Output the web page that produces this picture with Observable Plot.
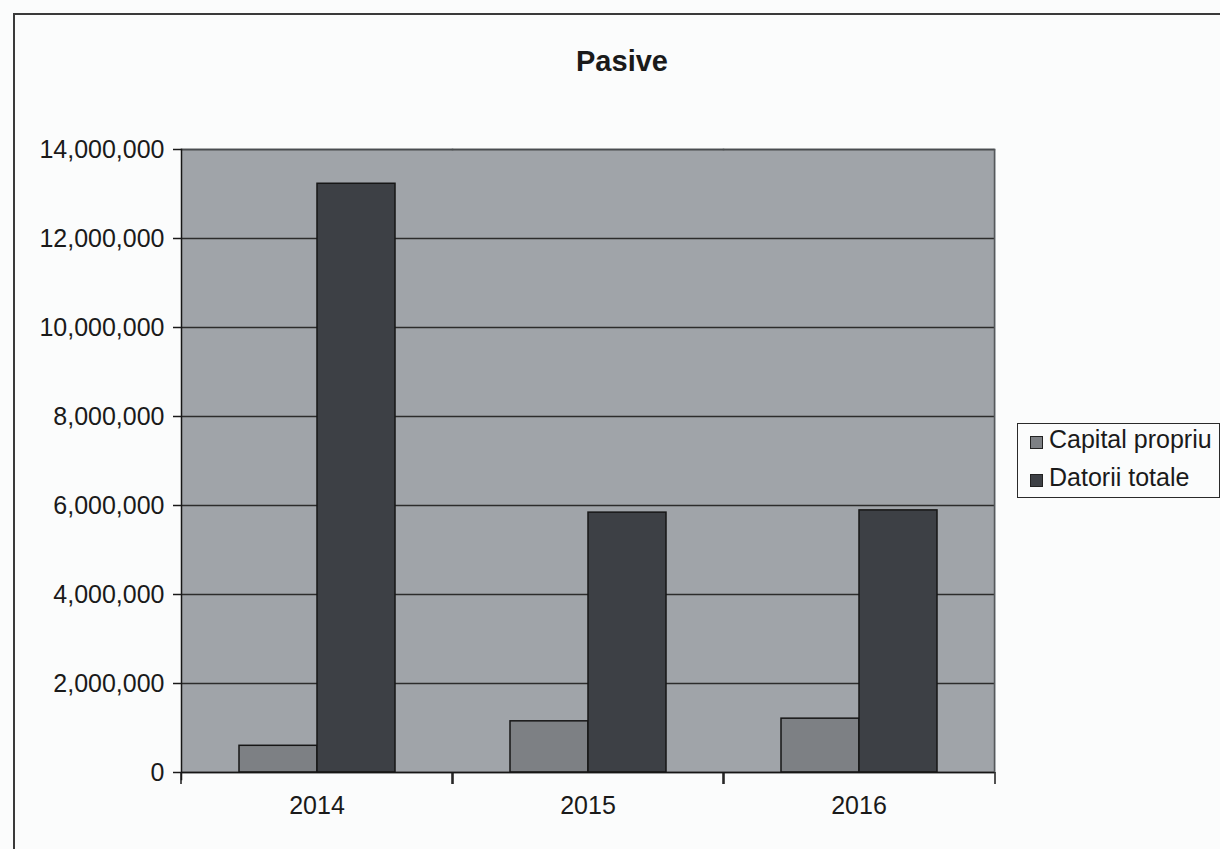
<!DOCTYPE html>
<html>
<head>
<meta charset="utf-8">
<title>Pasive</title>
<script src="https://cdn.jsdelivr.net/npm/d3@7"></script>
<script src="https://cdn.jsdelivr.net/npm/@observablehq/plot@0.6"></script>
<style>
  html, body { margin: 0; padding: 0; background: #fbfcfc; }
  #chart {
    position: relative; width: 1220px; height: 849px; overflow: hidden;
    background: #fbfcfc; color: #1a1a1a;
    font-family: "Liberation Sans", Arial, sans-serif;
  }
  #chart-border {
    position: absolute; left: 13px; top: 13px; width: 1300px; height: 900px;
    border-left: 2px solid #3a3a3a; border-top: 2px solid #3a3a3a;
  }
  #plot { position: absolute; left: 0; top: 0; }
  #title {
    position: absolute; left: 0; top: 47px; width: 1244px;
    text-align: center; font-size: 29px; line-height: 29px; font-weight: bold;
  }
  #legend {
    position: absolute; left: 1017px; top: 423px; width: 203px; height: 75px;
    border: 1.5px solid #2a2a2a; box-sizing: border-box; background: #fbfcfc;
  }
  .item { position: absolute; left: 12px; font-size: 25px; line-height: 25px; white-space: nowrap; }
  .swatch {
    display: inline-block; width: 11px; height: 11px; border: 1px solid #222;
    margin-right: 6px; vertical-align: -1px;
  }
</style>
</head>
<body>
<div id="chart">
  <div id="chart-border"></div>
  <div id="plot"></div>
  <div id="title">Pasive</div>
  <div id="legend"></div>
</div>
<script>
// Balance-sheet liabilities by year (lei)
const years = ["2014", "2015", "2016"];
const seriesNames = ["Capital propriu", "Datorii totale"];
const capitalPropriu = [600000, 1150000, 1210000];
const datoriiTotale = [13230000, 5840000, 5890000];
const yTicks = [0, 2000000, 4000000, 6000000, 8000000, 10000000, 12000000, 14000000];
const seriesColors = ["#7d8084", "#3d4045"];

const rows = years.flatMap((year, i) => [
  {year, series: seriesNames[0], value: capitalPropriu[i]},
  {year, series: seriesNames[1], value: datoriiTotale[i]}
]);

const lineColor = "#161616";

const chart = Plot.plot({
  width: 1220,
  height: 849,
  marginLeft: 180,
  marginRight: 225,
  marginTop: 149,
  marginBottom: 77,
  style: {
    background: "transparent",
    color: "#1a1a1a",
    fontFamily: "'Liberation Sans', Arial, sans-serif",
    overflow: "visible"
  },
  fx: {domain: years, padding: 0, axis: null, label: null},
  x: {domain: seriesNames, paddingInner: 0, paddingOuter: 0.72, axis: null, label: null},
  y: {domain: [0, 14000000], axis: null, label: null},
  color: {domain: seriesNames, range: seriesColors},
  marks: [
    // plot area background, one panel per year, overlapping by a pixel so no seams show
    Plot.frame({fill: "#a0a4a9", stroke: "none", insetRight: -1}),
    Plot.gridY(yTicks, {stroke: "#2c2c2c", strokeOpacity: 1, strokeWidth: 1.5}),
    Plot.frame({anchor: "top", stroke: "#4a4d50", strokeWidth: 1.5}),
    Plot.frame({anchor: "right", facetAnchor: "right", stroke: "#55585b", strokeWidth: 1.5}),
    Plot.barY(rows, {
      fx: "year", x: "series", y: "value", fill: "series",
      stroke: lineColor, strokeWidth: 1.5
    }),
    // value axis
    Plot.frame({anchor: "left", facetAnchor: "left", stroke: lineColor, strokeWidth: 1.5, insetBottom: -7}),
    Plot.axisY(yTicks, {
      label: null, tickFormat: d3.format(","), tickSize: 8, tickPadding: 9,
      fontSize: 25, strokeWidth: 1.5
    }),
    // category axis
    Plot.ruleY([0], {stroke: lineColor, strokeWidth: 1.5}),
    Plot.axisFx({anchor: "bottom", label: null, tickSize: 0, tickPadding: 24, fontSize: 25}),
    Plot.axisFx({anchor: "bottom", label: null, text: null, tickSize: 12, dx: -136, strokeWidth: 1.5}),
    Plot.axisFx(["2016"], {anchor: "bottom", label: null, text: null, tickSize: 12, dx: 136, strokeWidth: 1.5})
  ]
});
document.getElementById("plot").appendChild(chart);

// legend built from the same series and colours
const legend = d3.select("#legend");
seriesNames.forEach((name, i) => {
  const item = legend.append("div")
    .attr("class", "item")
    .style("top", (3 + i * 38) + "px");
  item.append("span").attr("class", "swatch").style("background", seriesColors[i]);
  item.append("span").text(name);
});
</script>
</body>
</html>
